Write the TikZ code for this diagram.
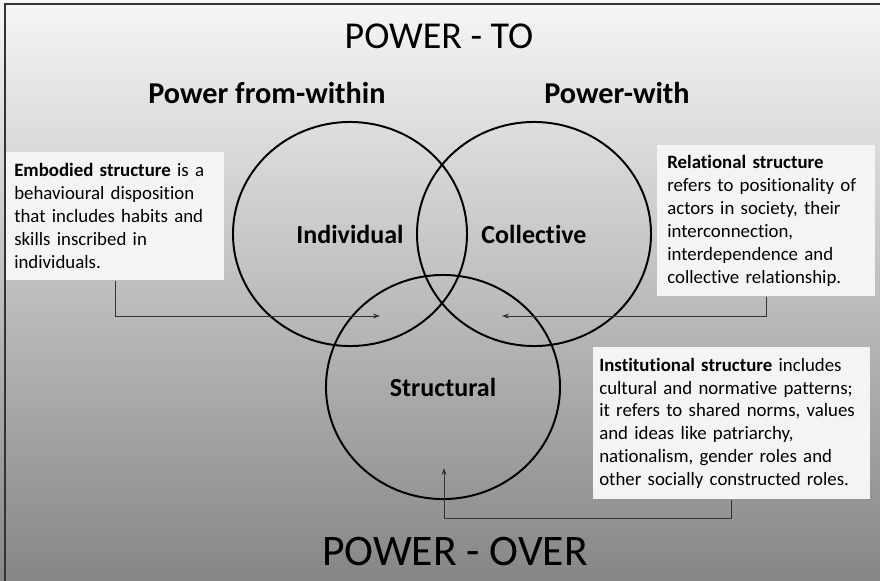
\documentclass[tikz,border=0pt]{standalone}
\usepackage{fontspec}
\setmainfont{Carlito}[Ligatures=NoCommon]
\usetikzlibrary{shapes.geometric, arrows.meta, positioning}

\definecolor{boxfill}{RGB}{243,245,244}
\definecolor{bgtop}{RGB}{246,246,248}
\definecolor{bgbottom}{RGB}{134,134,134}

\begin{document}
\begin{tikzpicture}[
        x=0.025cm, y=-0.025cm,
        % Circles of the three structures
        ring/.style={
                ellipse,
                draw=black,
                line width=1.4pt,
                minimum width=5.85cm,
                minimum height=5.6cm,
                font=\bfseries\fontsize{18.5}{22}\selectfont
            },
        % Headings
        title/.style={font=\fontsize{27}{32}\selectfont},
        heading/.style={font=\bfseries\fontsize{21.5}{26}\selectfont},
        % Text boxes
        infobox/.style={
                rectangle,
                fill=boxfill,
                anchor=north west,
                align=left,
                inner ysep=0pt,
                font=\fontsize{13.4}{16.3}\selectfont
            },
        % Arrows
        arrow/.style={
                -{Stealth[length=5pt, width=3.5pt]},
                line width=0.6pt,
                draw=black!80
            }
    ]

    % BACKGROUND
    \useasboundingbox (0,0) rectangle (880,580);
    \clip (0,0) rectangle (880,580);
    \shade[top color=bgtop, bottom color=bgbottom] (0,0) rectangle (880,580);
    \draw[line width=1.3pt, draw=black!80] (5,4) rectangle (890,590);

    % TITLES
    \node[title] (powerto) at (439,36) {POWER - TO};
    \node[title, font=\fontsize{31}{36}\selectfont] (powerover) at (455,551) {POWER - OVER};
    \node[heading] (within) at (267,93) {Power from-within};
    \node[heading] (with) at (617,93) {Power-with};

    % CIRCLES
    \node[ring] (individual) at (350,234) {Individual};
    \node[ring] (collective) at (534,234) {Collective};
    \node[ring] (structural) at (443,387) {Structural};

    % TEXT BOXES
    \node[infobox, text width=5.05cm, inner xsep=0.2cm, minimum height=3.2cm] (embodied) at (6,152)
        {\textbf{Embodied structure} is a\\behavioural disposition\\that includes habits and\\skills inscribed in\\individuals.};
    \node[infobox, text width=4.95cm, inner xsep=0.25cm, minimum height=3.775cm] (relational) at (657,145)
        {\textbf{Relational structure}\\refers to positionality of\\actors in society, their\\interconnection,\\interdependence and\\collective relationship.};
    \node[infobox, text width=6.625cm, inner xsep=0.15cm, minimum height=3.8cm] (institutional) at (593,347)
        {\textbf{Institutional structure} includes\\cultural and normative patterns;\\it refers to shared norms, values\\and ideas like patriarchy,\\nationalism, gender roles and\\other socially constructed roles.};

    % ARROWS
    \coordinate (indtip) at (380,316);
    \coordinate (coltip) at (502,316);
    \coordinate (strtip) at (444,468);
    \draw[arrow] (embodied.south) |- (indtip);
    \draw[arrow] (relational.south) |- (coltip);
    \draw[arrow] (institutional.south) -- ++(0,19) -| (strtip);

\end{tikzpicture}
\end{document}
